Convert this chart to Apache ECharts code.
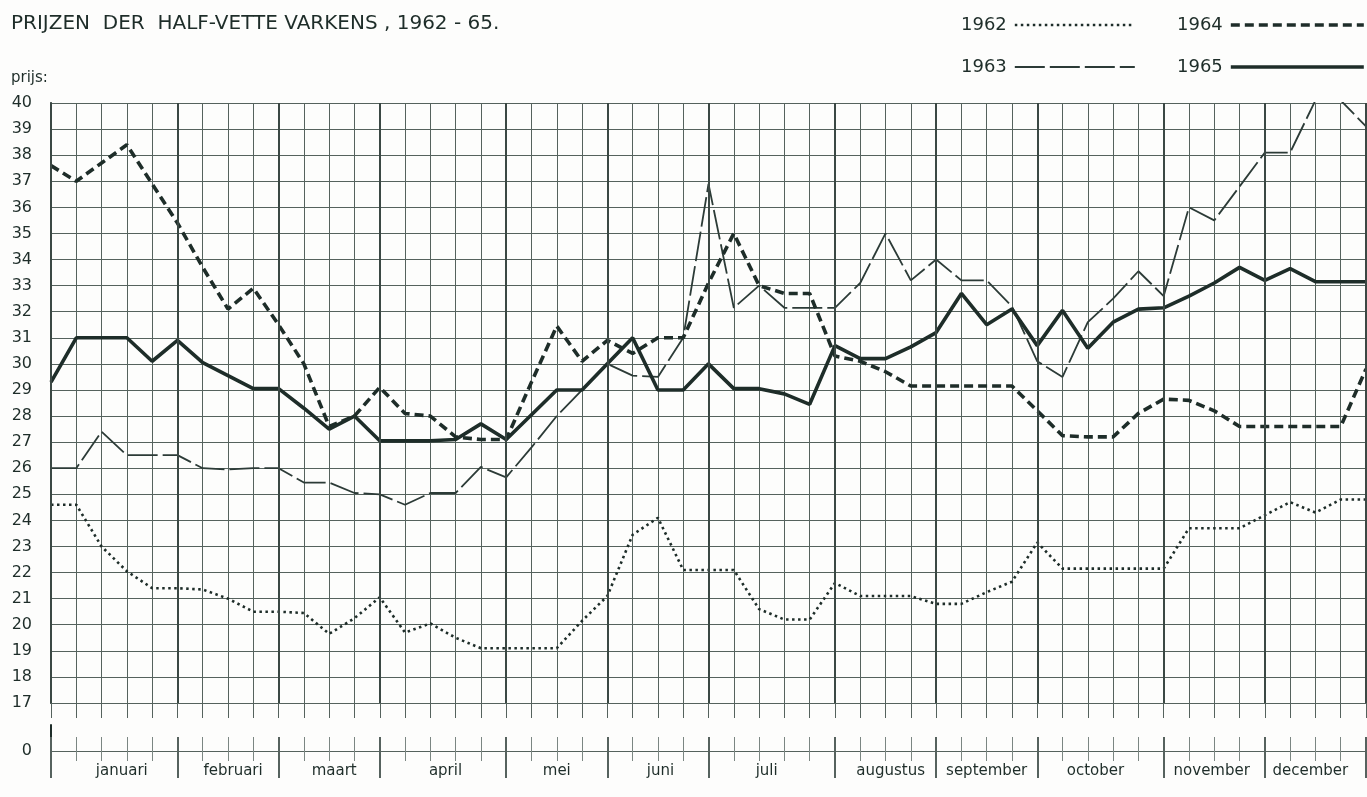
<!DOCTYPE html>
<html>
<head>
<meta charset="utf-8">
<script src="https://cdn.jsdelivr.net/npm/echarts@6.0.0/dist/echarts.min.js"></script>
<style>
  html, body { margin: 0; padding: 0; background: #fdfdfc; }
  #line-chart { width: 1367px; height: 797px; }
</style>
</head>
<body>
<div id="line-chart"></div>
<script>
// weken 0..52 (januari t/m december)
var weeks = [];
for (var w = 0; w <= 52; w++) weeks.push(w);

var monthNames = ["januari", "februari", "maart", "april", "mei", "juni", "juli",
    "augustus", "september", "october", "november", "december"];
var monthEdges = [0, 5, 9, 13, 18, 22, 26, 31, 35, 39, 44, 48, 52];
var monthLabelPos = [2.8, 7.2, 11.2, 15.6, 20.0, 24.1, 28.3, 33.2, 37.0, 41.3, 45.9, 49.8];

var yTicks = [17, 18, 19, 20, 21, 22, 23, 24, 25, 26, 27, 28, 29, 30, 31, 32, 33, 34, 35, 36, 37, 38, 39, 40];

var p1962 = [24.6, 24.6, 23.0, 22.05, 21.4, 21.4, 21.35, 21.0, 20.5, 20.5,
    20.45, 19.65, 20.25, 21.05, 19.7, 20.05, 19.5, 19.1, 19.1, 19.1,
    19.1, 20.15, 21.1, 23.45, 24.1, 22.1, 22.1, 22.1, 20.6, 20.2,
    20.2, 21.6, 21.1, 21.1, 21.1, 20.8, 20.8, 21.25, 21.65, 23.15,
    22.15, 22.15, 22.15, 22.15, 22.15, 23.7, 23.7, 23.7, 24.2, 24.7,
    24.3, 24.8, 24.8];
var p1963 = [26.0, 26.0, 27.4, 26.5, 26.5, 26.5, 26.0, 25.95, 26.0, 26.0,
    25.45, 25.45, 25.05, 25.0, 24.6, 25.05, 25.05, 26.05, 25.65, 26.8,
    28.0, 29.0, 30.0, 29.55, 29.5, 31.0, 36.9, 32.15, 33.0, 32.15,
    32.15, 32.15, 33.1, 35.0, 33.2, 34.0, 33.2, 33.2, 32.2, 30.1,
    29.5, 31.6, 32.5, 33.55, 32.6, 36.0, 35.5, 36.8, 38.1, 38.1,
    40.1, 40.1, 39.1];
var p1964 = [37.6, 37.0, 37.7, 38.4, 36.9, 35.4, 33.7, 32.1, 32.9, 31.5,
    30.0, 27.6, 28.0, 29.1, 28.1, 28.0, 27.2, 27.1, 27.1, 29.3,
    31.45, 30.1, 30.9, 30.4, 31.0, 31.0, 33.1, 35.0, 33.0, 32.7,
    32.7, 30.3, 30.1, 29.7, 29.15, 29.15, 29.15, 29.15, 29.15, 28.2,
    27.25, 27.2, 27.2, 28.1, 28.65, 28.6, 28.2, 27.6, 27.6, 27.6,
    27.6, 27.6, 29.8];
var p1965 = [29.3, 31.0, 31.0, 31.0, 30.1, 30.9, 30.05, 29.55, 29.05, 29.05,
    28.3, 27.5, 28.0, 27.05, 27.05, 27.05, 27.1, 27.7, 27.1, 28.05,
    29.0, 29.0, 30.0, 31.0, 29.0, 29.0, 30.0, 29.05, 29.05, 28.85,
    28.45, 30.7, 30.2, 30.2, 30.65, 31.2, 32.7, 31.5, 32.1, 30.7,
    32.05, 30.6, 31.6, 32.1, 32.15, 32.6, 33.1, 33.7, 33.2, 33.65,
    33.15, 33.15, 33.15];

function pairs(arr) {
    return arr.map(function (v, i) { return [weeks[i], v]; });
}

var ink = "#1e2d29",
    ink63 = "#2c3b37",
    gridInk = "#55625d",
    fontFam = "'DejaVu Sans', sans-serif";

var style1962 = { color: ink, width: 2.6, type: [2.5, 3.5], cap: "butt" },
    style1963 = { color: ink63, width: 1.8, type: [30, 5] },
    style1964 = { color: ink, width: 3.6, type: [9, 5] },
    style1965 = { color: ink, width: 3.6, type: "solid" };

var dom = document.getElementById("line-chart"),
    myChart = echarts.init(dom, null, { renderer: "canvas" });

var baseX = {
    type: "value", min: 0, max: 52, interval: 1,
    axisLine: { show: false }, axisLabel: { show: false },
    axisTick: { show: false }, splitLine: { show: false }
};
function xAx(extra) { return Object.assign({}, baseX, extra); }

// een legenda per jaar, zodat elk stuk op zijn eigen plek staat
function leg(name, left, top, width, ls) {
    return {
        data: [name], left: left, top: top, align: "right",
        itemWidth: width, itemHeight: 12,
        itemStyle: { opacity: 0 },
        lineStyle: ls,
        textStyle: { fontFamily: fontFam, fontSize: 18, color: ink, padding: [0, 3, 0, 0] }
    };
}

var option = {
    animation: false,
    backgroundColor: "#fdfdfc",
    title: [
        { text: "PRIJZEN  DER  HALF-VETTE VARKENS , 1962 - 65.", left: 6, top: 9,
          textStyle: { fontFamily: fontFam, fontSize: 20, fontWeight: "normal", color: ink } },
        { text: "prijs:", left: 6, top: 66,
          textStyle: { fontFamily: fontFam, fontSize: 15, fontWeight: "normal", color: ink } }
    ],
    legend: [
        leg("1962", 956, 11, 120, style1962),
        leg("1964", 1172, 11, 133, style1964),
        leg("1963", 956, 53, 120, style1963),
        leg("1965", 1172, 53, 133, style1965)
    ],
    grid: [
        { left: 51, right: 1, top: 103, height: 600 },
        { left: 51, right: 1, top: 725, height: 26 }
    ],
    xAxis: [
        // hoofdraster: weeklijnen
        xAx({ gridIndex: 0, axisLine: { show: true, lineStyle: { color: gridInk, width: 1 } },
              axisTick: { show: true, length: 15, lineStyle: { color: gridInk, width: 1 } },
              splitLine: { show: true, lineStyle: { color: gridInk, width: 1 } } }),
        // onderste strook: nul-lijn met streepjes
        xAx({ gridIndex: 1, position: "bottom",
              axisLine: { show: true, lineStyle: { color: gridInk, width: 1 } },
              axisTick: { show: true, inside: true, length: 14, lineStyle: { color: "#7b8682", width: 1 } } }),
        xAx({ gridIndex: 1, position: "bottom",
              axisTick: { show: true, length: 10, lineStyle: { color: "#7b8682", width: 1 } } }),
        xAx({ gridIndex: 1, position: "bottom",
              axisTick: { show: true, length: 27, customValues: monthEdges, lineStyle: { color: "#56625e", width: 2 } } }),
        xAx({ gridIndex: 1, position: "bottom",
              axisTick: { show: true, inside: true, length: 14, customValues: monthEdges, lineStyle: { color: "#56625e", width: 2 } } }),
        xAx({ gridIndex: 1, position: "bottom",
              axisLabel: { show: true, customValues: monthLabelPos, margin: 13,
                  fontFamily: fontFam, fontSize: 15, color: ink,
                  formatter: function (v) {
                      var k = monthLabelPos.indexOf(v);
                      return k >= 0 ? monthNames[k] : "";
                  } } })
    ],
    yAxis: [
        { gridIndex: 0, type: "value", min: yTicks[0], max: yTicks[yTicks.length - 1], interval: 1,
          axisLine: { show: true, lineStyle: { color: ink, width: 2 } },
          axisTick: { show: false },
          axisLabel: { margin: 19, fontFamily: fontFam, fontSize: 16, color: ink },
          splitLine: { show: true, lineStyle: { color: gridInk, width: 1 } } },
        { gridIndex: 1, type: "value", min: 0, max: 1, interval: 1,
          axisLine: { show: true, lineStyle: { color: ink, width: 2 } },
          axisTick: { show: false },
          axisLabel: { margin: 19, fontFamily: fontFam, fontSize: 16, color: ink,
              formatter: function (v) { return v === 0 ? "0" : ""; } },
          splitLine: { show: false } }
    ],
    series: [
        { name: "1962", type: "line", xAxisIndex: 0, yAxisIndex: 0, data: pairs(p1962),
          symbol: "none", color: ink, lineStyle: style1962 },
        { name: "1963", type: "line", xAxisIndex: 0, yAxisIndex: 0, data: pairs(p1963),
          symbol: "none", color: ink63, lineStyle: style1963 },
        { name: "1964", type: "line", xAxisIndex: 0, yAxisIndex: 0, data: pairs(p1964),
          symbol: "none", color: ink, lineStyle: style1964 },
        { name: "1965", type: "line", xAxisIndex: 0, yAxisIndex: 0, data: pairs(p1965),
          symbol: "none", color: ink, lineStyle: style1965,
          markLine: { silent: true, symbol: ["none", "none"], label: { show: false },
              lineStyle: { color: "#3b4844", width: 2, type: "solid" },
              data: monthEdges.map(function (v) { return { xAxis: v }; }) } }
    ]
};

option && "object" == typeof option && myChart.setOption(option, true);
</script>
</body>
</html>
